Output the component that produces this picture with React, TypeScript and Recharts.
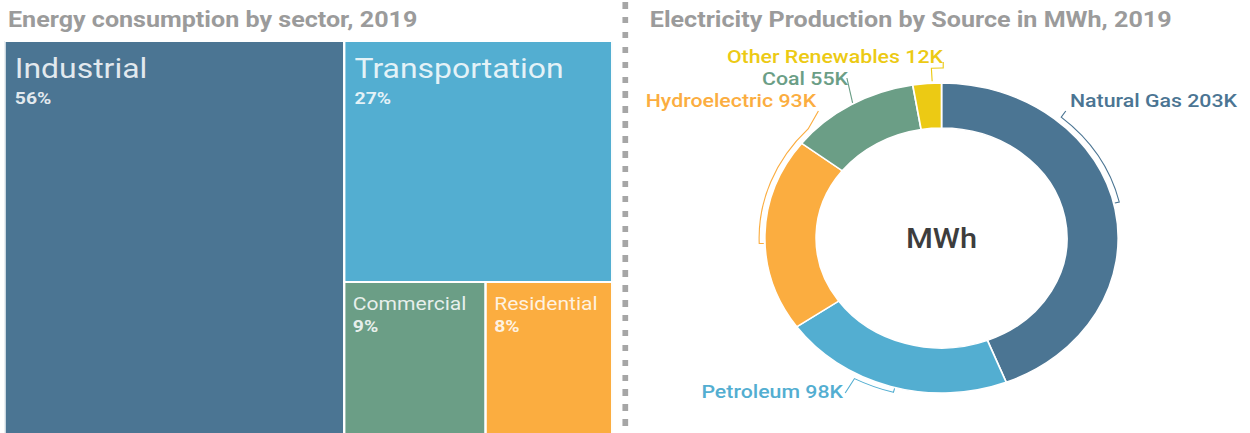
import React from 'react';
import { Treemap, PieChart, Pie, Cell, Label } from 'recharts';

// energy consumption by sector (% of total)
const SECTORS = ['Industrial', 'Transportation', 'Commercial', 'Residential'];
const SECTOR_SHARES = [56, 27, 9, 8];
const SECTOR_COLORS = ['#4b7593', '#53aed1', '#6b9e86', '#fbad40'];

// electricity production by source (thousand MWh)
const SOURCES = ['Natural Gas', 'Petroleum', 'Hydroelectric', 'Coal', 'Other Renewables'];
const SOURCE_MWH = [203, 98, 93, 55, 12];
const SOURCE_COLORS = ['#4b7593', '#53aed1', '#fbad40', '#6b9e86', '#ecca14'];

// the whole picture is drawn a bit wider than tall
const STRETCH = 1.14;
const INNER_W = 1250 / STRETCH;

// bracket labels: angles in degrees clockwise from 12 o'clock, offsets from the pie centre
const LABEL_LAYOUT = [
  { a0: 41, a1: 77, r: 160, tick: 4, lx: 109, ly: -127, tx: 112.7, ty: -131, anchor: 'start' },
  { a0: 208.5, a1: 195.3, r: 160, tick: 4, lx: -84.5, ly: 155, tx: -86.4, ty: 160, anchor: 'end' },
  { a0: 313, a1: 268, r: 160, tick: 4, lx: -108, ly: -127, tx: -110, ty: -131, anchor: 'end' },
  { a0: 330, a1: 330, r: 156, tick: 0, lx: -83, ly: -160, tx: -82, ty: -153, anchor: 'end' },
  { a0: 0.5, a1: -3, r: 170, tick: 13, lx: 1.5, ly: -176, tx: 1.3, ty: -175, anchor: 'end' },
];

const sectorData = SECTORS.map((name, i) => ({ name, size: SECTOR_SHARES[i] }));
const sourceData = SOURCES.map((name, i) => ({ name, value: SOURCE_MWH[i] }));

const polar = (cx: number, cy: number, r: number, deg: number) => {
  const a = (deg * Math.PI) / 180;
  return [cx + r * Math.sin(a), cy - r * Math.cos(a)];
};

const SectorCell = (props: any) => {
  const { x, y, width, height, name, value, depth } = props;
  if (depth !== 1) return null;
  const i = SECTORS.indexOf(name);
  const big = width > 200;
  const pad = big ? 9 : 7.5;
  return (
    <g>
      <rect x={x} y={y} width={width} height={height} fill={SECTOR_COLORS[i]} stroke="#fff" strokeWidth={2} />
      <text x={x + pad} y={y + (big ? 37 : 28)} fill="#fff" fillOpacity={0.85} stroke="none" fontSize={big ? 28 : 18.5}>
        {name}
      </text>
      <text x={x + pad} y={y + (big ? 63 : 50)} fill="#fff" fillOpacity={0.85} stroke="none" fontSize={17} fontWeight={700}>
        {value}%
      </text>
    </g>
  );
};

const renderSourceLabel = (props: any) => {
  const { cx, cy, index } = props;
  const l = LABEL_LAYOUT[index];
  const color = SOURCE_COLORS[index];
  const [x0, y0] = polar(cx, cy, l.r, l.a0);
  const [x1, y1] = polar(cx, cy, l.r, l.a1);
  const [x2, y2] = polar(cx, cy, l.r - l.tick, l.a1);
  const sweep = l.a1 > l.a0 ? 1 : 0;
  const d = `M${cx + l.lx},${cy + l.ly} L${x0},${y0} A${l.r},${l.r} 0 0 ${sweep} ${x1},${y1} L${x2},${y2}`;
  return (
    <g key={`lbl-${index}`}>
      <path d={d} fill="none" stroke={color} strokeWidth={1} />
      <text x={cx + l.tx} y={cy + l.ty} textAnchor={l.anchor} fill={color} stroke="none" fontSize={18.7} fontWeight={500}>
        {SOURCES[index]} {SOURCE_MWH[index]}K
      </text>
    </g>
  );
};

const titleStyle: React.CSSProperties = {
  position: 'absolute',
  top: 6.5,
  fontSize: 22,
  lineHeight: '26px',
  fontWeight: 700,
  color: '#9b9b9b',
  whiteSpace: 'nowrap',
};

export default function App() {
  return (
    <div style={{ position: 'absolute', left: 0, top: 0, width: 1250, height: 433, overflow: 'hidden', background: '#fff', fontFamily: 'Roboto, sans-serif' }}>
      <div style={{ position: 'absolute', left: 0, top: 0, width: INNER_W, height: 433, overflow: 'hidden', transform: `scaleX(${STRETCH})`, transformOrigin: '0 0' }}>
        <div style={{ ...titleStyle, left: 7 }}>Energy consumption by sector, 2019</div>
        <div style={{ ...titleStyle, left: 570 }}>Electricity Production by Source in MWh, 2019</div>

        <div style={{ position: 'absolute', left: 3.5, top: 41 }}>
          <Treemap
            width={533}
            height={393}
            data={sectorData}
            dataKey="size"
            stroke="#fff"
            isAnimationActive={false}
            content={<SectorCell />}
          />
        </div>

        {/* dotted divider */}
        <div
          style={{
            position: 'absolute',
            left: 546,
            top: 2,
            width: 4.5,
            height: 431,
            background: 'repeating-linear-gradient(to bottom, #a6a6a6 0px, #a6a6a6 6.5px, transparent 6.5px, transparent 14.9px)',
          }}
        />

        {/* chart box is sized so that its centre is the ring centre */}
        <div style={{ position: 'absolute', left: 560, top: 0 }}>
          <PieChart width={531.8} height={476} margin={{ top: 0, right: 0, bottom: 0, left: 0 }}>
            <Pie
              data={sourceData}
              dataKey="value"
              nameKey="name"
              cx="50%"
              cy="50%"
              innerRadius={110}
              outerRadius={155}
              startAngle={90}
              endAngle={-270}
              stroke="#fff"
              strokeWidth={1.5}
              label={renderSourceLabel}
              labelLine={false}
              isAnimationActive={false}
            >
              {sourceData.map((d, i) => (
                <Cell key={d.name} fill={SOURCE_COLORS[i]} />
              ))}
              <Label value="MWh" position="center" fill="#3d3d3d" fontSize={27} fontWeight={500} />
            </Pie>
          </PieChart>
        </div>
      </div>
    </div>
  );
}
